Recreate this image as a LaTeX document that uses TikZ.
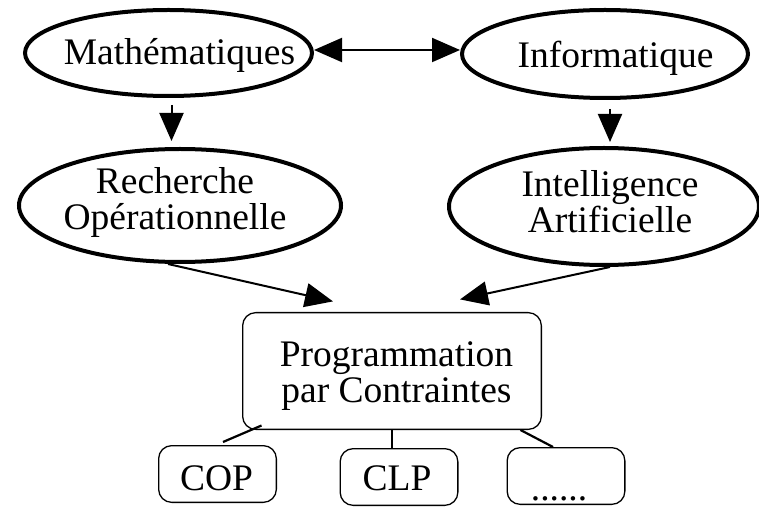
\documentclass[tikz,border=0pt]{standalone}
\usepackage{fontspec}
\setmainfont{Liberation Serif}
\usetikzlibrary{arrows.meta}
\usetikzlibrary{shapes.geometric}

\begin{document}
\begin{tikzpicture}[x=1bp, y=-1bp,
        >={Triangle[length=28bp, width=24bp]},
        field/.style={draw, ellipse, line width=4bp, inner sep=0pt},
        box/.style={draw, rounded corners=13bp, line width=1.3bp, inner sep=0pt},
        word/.style={anchor=base, align=center, inner sep=0pt,
            font=\fontsize{37.5bp}{36bp}\selectfont},
        arr/.style={line width=2bp, ->},
        link/.style={line width=2.2bp}]
    \useasboundingbox (0,0) rectangle (759,507);

    % The four fields
    \node[field, minimum width=287bp, minimum height=86bp] (math) at (168.5,53) {};
    \node[field, minimum width=286bp, minimum height=88bp] (info) at (605,54) {};
    \node[field, minimum width=322bp, minimum height=113bp] (ro) at (180,205.5) {};
    \node[field, minimum width=310bp, minimum height=117bp] (ia) at (604,206.5) {};

    % (base of a two-line node = baseline of its last line)
    \node[word] (math-t) at (179.5,65) {Mathématiques};
    \node[word] (info-t) at (615.5,68) {Informatique};
    \node[word] (ro-t) at (175,230) {Recherche\\Opérationnelle};
    \node[word] (ia-t) at (610,233) {Intelligence\\Artificielle};

    % Constraint programming and its branches
    \node[box, minimum width=298.7bp, minimum height=116.7bp] (ppc) at (392,371) {};
    \node[word] (ppc-t) at (396.5,402) {Programmation\\par Contraintes};

    \node[box, minimum width=117.7bp, minimum height=56.7bp] (cop) at (217.5,474) {};
    \node[box, minimum width=117.7bp, minimum height=56.7bp] (clp) at (399,477) {};
    \node[box, minimum width=117.7bp, minimum height=56.7bp] (etc) at (566,476) {};
    \node[word] (cop-t) at (216.5,490) {COP};
    \node[word] (clp-t) at (397,490) {CLP};
    \node[word] (etc-t) at (559,500) {......};

    % Arrows
    \draw[arr, <->] ([yshift=3bp]math.east) -- ([yshift=3bp]math.east -| info.west);
    \draw[arr, shorten <=7bp, shorten >=6bp] ([xshift=3bp]math.south) -- ([xshift=3bp]math.south |- ro.north);
    \draw[arr, shorten <=9bp, shorten >=4bp] ([xshift=5bp]info.south) -- ([xshift=5bp]info.south |- ia.north);
    \draw[arr] ([xshift=-12bp]ro.south) -- ([xshift=-59bp, yshift=10.6bp]ppc.north);
    \draw[arr] ([xshift=6bp]ia.south) -- ([xshift=68bp, yshift=12.6bp]ppc.north);

    % Branch links
    \draw[link] ([xshift=5.5bp, yshift=3bp]cop.north) -- ([xshift=19.5bp, yshift=4.5bp]ppc.south west);
    \draw[link] (ppc.south) -- (ppc.south |- clp.north);
    \draw[link] ([xshift=-13bp]etc.north) -- ([xshift=-21.5bp]ppc.south east);
\end{tikzpicture}
\end{document}
